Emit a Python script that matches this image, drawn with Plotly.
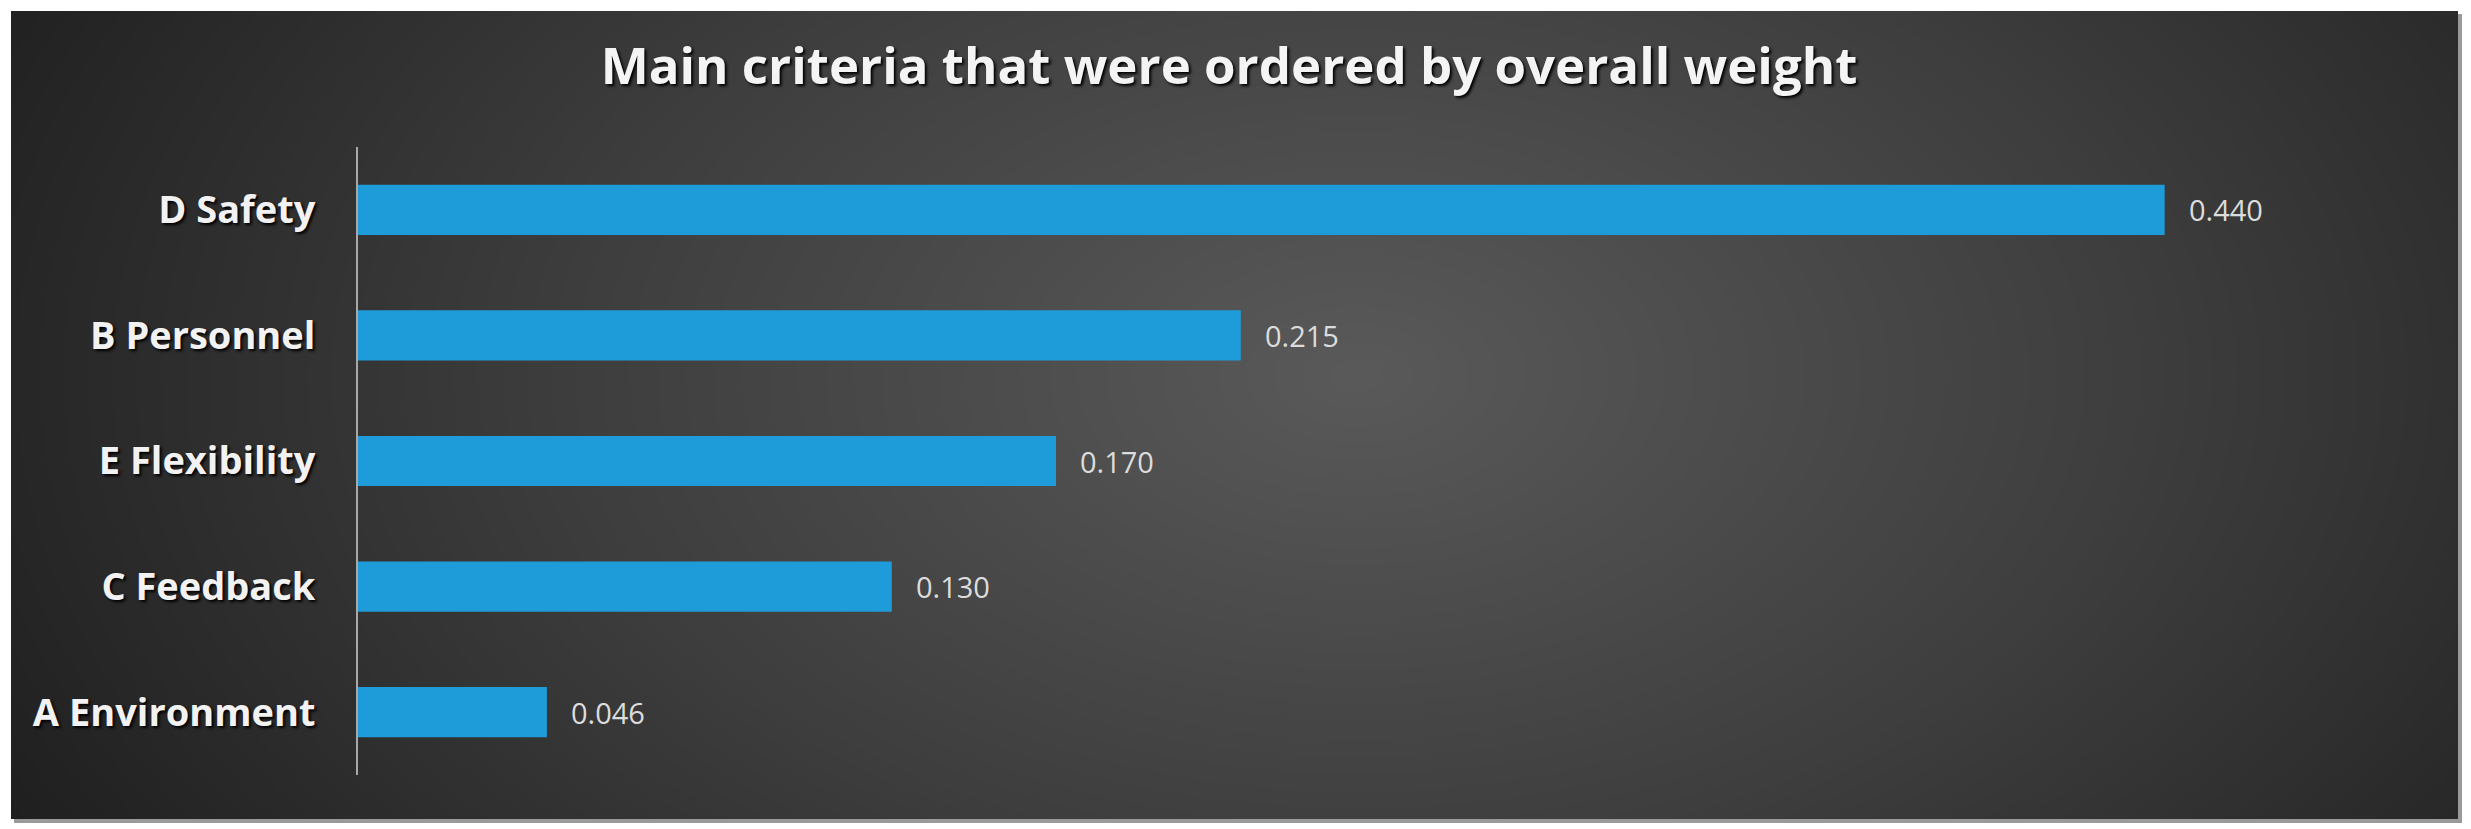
import numpy as np
import plotly.graph_objects as go

# Datos del gráfico
criteria = ["A Environment", "C Feedback", "E Flexibility", "B Personnel", "D Safety"]
weights = [0.046, 0.130, 0.170, 0.215, 0.440]
weight_labels = ["0.046", "0.130", "0.170", "0.215", "0.440"]

W, H = 2471, 829
OFF = 8  # margen por defecto del <body> del navegador
FW, FH = W - OFF, H - OFF
BAR_COLOR = "#1e9cda"
FONT = "Open Sans"


def px_x(p):
    return (p - OFF) / FW


def px_y(p):
    return 1 - (p - OFF) / FH


# --- Fondo degradado (solo estilo) ---
gx = np.linspace(0, 1, 120)
gy = np.linspace(0, 1, 60)
XX, YY = np.meshgrid(gx, gy)
dist = np.sqrt(((XX - 0.55) / 0.64) ** 2 + ((YY - 0.55) / 1.2) ** 2)
shade = np.clip(1 - dist, 0, 1)

fig = go.Figure()

fig.add_trace(
    go.Heatmap(
        x=gx,
        y=gy,
        z=shade,
        zsmooth="best",
        colorscale=[[0, "#1f1f1f"], [0.5, "#3e3e3e"], [1, "#595959"]],
        showscale=False,
        hoverinfo="skip",
        xaxis="x",
        yaxis="y",
    )
)

# Barras
fig.add_trace(
    go.Bar(
        x=weights,
        y=criteria,
        orientation="h",
        marker=dict(color=BAR_COLOR, line=dict(width=0)),
        xaxis="x2",
        yaxis="y2",
        hoverinfo="x+y",
    )
)

# Etiquetas de valor
annotations = []
for c, v, lab in zip(criteria, weights, weight_labels):
    annotations.append(
        dict(
            x=v,
            y=c,
            xref="x2",
            yref="y2",
            text=lab,
            showarrow=False,
            xanchor="left",
            yanchor="middle",
            xshift=22,
            font=dict(family=FONT, size=29, color="#dcdcdc"),
        )
    )

fig.update_layout(
    width=FW,
    height=FH,
    margin=dict(l=0, r=0, t=0, b=0),
    paper_bgcolor="white",
    plot_bgcolor="rgba(0,0,0,0)",
    showlegend=False,
    bargap=0.6,
    annotations=annotations,
    title=dict(
        text="<b>Main criteria that were ordered by overall weight</b>",
        x=px_x(1229),
        xanchor="center",
        y=px_y(66),
        yanchor="middle",
        font=dict(family=FONT, size=51, color="#f4f4f4", shadow="2px 2px 3px #000"),
    ),
    xaxis=dict(
        domain=[px_x(11), px_x(2458)],
        range=[0, 1],
        visible=False,
        fixedrange=True,
    ),
    yaxis=dict(
        domain=[px_y(819), px_y(11)],
        range=[0, 1],
        visible=False,
        fixedrange=True,
    ),
    xaxis2=dict(
        domain=[px_x(358), px_x(2411)],
        range=[0, 0.5],
        anchor="y2",
        showgrid=False,
        zeroline=False,
        showticklabels=False,
        showline=False,
    ),
    yaxis2=dict(
        domain=[px_y(775), px_y(147)],
        anchor="x2",
        showgrid=False,
        zeroline=False,
        showline=True,
        linecolor="#a8a8a8",
        linewidth=2,
        ticks="",
        ticklabelstandoff=33,
        tickfont=dict(family=FONT, size=38, color="#f2f2f2", weight="bold", shadow="2px 2px 3px #000"),
    ),
)

# Sombra del panel
fig.add_shape(
    type="rect",
    xref="paper",
    yref="paper",
    x0=px_x(14),
    x1=px_x(2462),
    y0=px_y(823),
    y1=px_y(14),
    fillcolor="#9a9a9a",
    line=dict(width=0),
    layer="below",
)

fig.write_html("out.html")
